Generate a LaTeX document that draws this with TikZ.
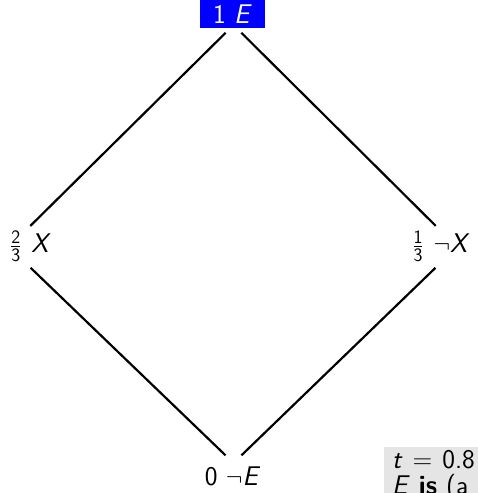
\documentclass[tikz,border=0pt]{standalone}
\usepackage{amsmath}
\usepackage{fontspec}
\newcommand{\fracdigit}[1]{\mbox{\fontsize{19}{19}\selectfont\sffamily #1}}
\begin{document}
\begin{tikzpicture}[x=1pt,y=-1pt,
  lab/.style={font=\sffamily\fontsize{27}{32}\selectfont, inner sep=0pt},
  edge/.style={line width=2.2pt}]
\useasboundingbox (0,0) rectangle (478,493);
\clip (0,0) rectangle (478,493);
% diamond vertices
\coordinate (vT) at (233.5,25);
\coordinate (vL) at (9,247);
\coordinate (vR) at (457,247);
\coordinate (vB) at (233.5,463);
% nodes
\node[lab, fill=blue, text=white, minimum width=65pt, minimum height=28pt] (top) at (232.5,14) {1 \textit{E}};
\node[lab] (left) at (30.5,246) {$\frac{\fracdigit{2}}{\fracdigit{3}}$\hspace{10pt}\textit{X}};
\node[lab] (right) at (441,246) {$\frac{\fracdigit{1}}{\fracdigit{3}}$\hspace{10pt}$\neg$\textit{X}};
\node[lab] (bottom) at (232.5,476) {0 $\neg$\textit{E}};
\node[lab, fill=black!10, anchor=north west, align=left, minimum height=48pt, text width=140pt, inner xsep=8pt, inner ysep=3pt] (info) at (384,447) {\textit{t}\hspace{10pt}=\hspace{10pt}0.8\\[-6pt]\textit{E} \textbf{is} (a};
% connectors
\draw[edge, shorten <=11pt, shorten >=30pt] (vT) -- (vL);
\draw[edge, shorten <=11pt, shorten >=30pt] (vT) -- (vR);
\draw[edge, shorten <=11pt, shorten >=30pt] (vB) -- (vL);
\draw[edge, shorten <=11pt, shorten >=30pt] (vB) -- (vR);
\end{tikzpicture}
\end{document}
